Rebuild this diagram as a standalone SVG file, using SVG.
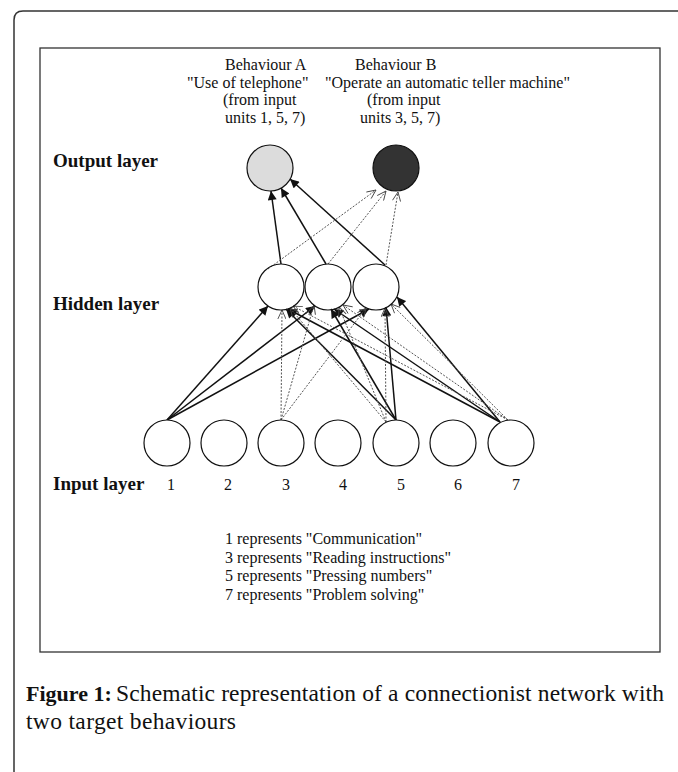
<svg xmlns="http://www.w3.org/2000/svg" width="678" height="772" viewBox="0 0 678 772">
<style>
.t{font-family:"Liberation Serif","Times New Roman",serif;font-size:16px;fill:#111}
.lb{font-family:"Liberation Serif","Times New Roman",serif;font-size:19px;font-weight:bold;fill:#111}
.num{font-family:"Liberation Serif","Times New Roman",serif;font-size:16px;fill:#111;text-anchor:middle}
.cap{font-family:"Liberation Serif","Times New Roman",serif;font-size:23.5px;fill:#111}
.capb{font-family:"Liberation Serif","Times New Roman",serif;font-size:22px;font-weight:bold;fill:#111}
.n{fill:#fff;stroke:#111;stroke-width:1.2}
.s{fill:none;stroke:#111;stroke-width:1.5;marker-end:url(#arrS)}
.d{fill:none;stroke:#555;stroke-width:1;stroke-dasharray:2 1.5;marker-end:url(#arrO)}
</style>
<defs>
<marker id="arrS" viewBox="0 0 10 10" refX="10" refY="5" markerWidth="10" markerHeight="9" markerUnits="userSpaceOnUse" orient="auto">
<path d="M0,0 L10,5 L0,10 z" fill="#111"/>
</marker>
<marker id="arrO" viewBox="0 0 10 10" refX="10" refY="5" markerWidth="10" markerHeight="9" markerUnits="userSpaceOnUse" orient="auto">
<path d="M0,0.5 L10,5 L0,9.5" fill="none" stroke="#444" stroke-width="1"/>
</marker>
</defs>
<rect x="0" y="0" width="678" height="772" fill="#fff"/>
<path d="M14,772 V20 Q14,11 23,11 H678" fill="none" stroke="#333" stroke-width="1.5"/>
<rect x="40" y="48" width="620" height="604" fill="none" stroke="#333" stroke-width="1.3"/>

<g id="labels">
<text class="t" x="225" y="70">Behaviour A</text>
<text class="t" x="187" y="88">"Use of telephone"</text>
<text class="t" x="223" y="105">(from input</text>
<text class="t" x="225" y="123">units 1, 5, 7)</text>
<text class="t" x="355" y="70">Behaviour B</text>
<text class="t" x="325" y="88">"Operate an automatic teller machine"</text>
<text class="t" x="367" y="105">(from input</text>
<text class="t" x="360" y="123">units 3, 5, 7)</text>
<text class="lb" x="53" y="167">Output layer</text>
<text class="lb" x="53" y="310">Hidden layer</text>
<text class="lb" x="53" y="490">Input layer</text>
</g>

<g id="connectors">
<path class="s" d="M281,264 L271,191"/>
<path class="s" d="M326,264 L281,188"/>
<path class="s" d="M385,265 L290,179"/>
<path class="d" d="M268,269 L376,190"/>
<path class="d" d="M328,264 L386,191"/>
<path class="d" d="M386,265 L398,192"/>
<path class="s" d="M167,420 L268,306"/>
<path class="s" d="M167,420 L315,306"/>
<path class="s" d="M167,420 L369,309"/>
<path class="s" d="M396,420 L286,309"/>
<path class="s" d="M396,420 L331,309"/>
<path class="s" d="M396,420 L386,307"/>
<path class="s" d="M500,422 L288,309"/>
<path class="s" d="M500,422 L334,309"/>
<path class="s" d="M500,422 L397,297"/>
<path class="d" d="M281,420 L282,310"/>
<path class="d" d="M281,420 L314,305"/>
<path class="d" d="M281,420 L366,308"/>
<path class="d" d="M386,422 L290,308"/>
<path class="d" d="M386,422 L339,307"/>
<path class="d" d="M386,422 L385,308"/>
<path class="d" d="M508,420 L293,306"/>
<path class="d" d="M508,420 L343,305"/>
<path class="d" d="M508,420 L391,304"/>
</g>

<g id="out-a"><circle cx="270" cy="168" r="23" fill="#dcdcdc" stroke="#111" stroke-width="1.2"/></g>
<g id="out-b"><circle cx="396" cy="168" r="23" fill="#333" stroke="#111" stroke-width="1.2"/></g>
<g id="hid-1"><circle class="n" cx="281" cy="287" r="23" fill-opacity="0"/></g>
<g id="hid-2"><circle class="n" cx="328" cy="287" r="23" fill-opacity="0"/></g>
<g id="hid-3"><circle class="n" cx="376" cy="287" r="23" fill-opacity="0"/></g>

<g id="in-1"><circle class="n" cx="167" cy="443" r="23"/><text class="num" x="171" y="490">1</text></g>
<g id="in-2"><circle class="n" cx="224" cy="443" r="23"/><text class="num" x="228" y="490">2</text></g>
<g id="in-3"><circle class="n" cx="281" cy="443" r="23"/><text class="num" x="286" y="490">3</text></g>
<g id="in-4"><circle class="n" cx="338" cy="443" r="23"/><text class="num" x="343" y="490">4</text></g>
<g id="in-5"><circle class="n" cx="396" cy="443" r="23"/><text class="num" x="401" y="490">5</text></g>
<g id="in-6"><circle class="n" cx="453" cy="443" r="23"/><text class="num" x="458" y="490">6</text></g>
<g id="in-7"><circle class="n" cx="511" cy="443" r="23"/><text class="num" x="516" y="490">7</text></g>

<g id="legend">
<text class="t" x="225" y="544">1 represents "Communication"</text>
<text class="t" x="225" y="562.5">3 represents "Reading instructions"</text>
<text class="t" x="225" y="581">5 represents "Pressing numbers"</text>
<text class="t" x="225" y="600">7 represents "Problem solving"</text>
</g>

<g id="caption">
<text class="capb" x="26" y="701">Figure 1:</text>
<text class="cap" x="116" y="701" textLength="548" lengthAdjust="spacing">Schematic representation of a connectionist network with</text>
<text class="cap" x="26" y="729" textLength="210" lengthAdjust="spacing">two target behaviours</text>
</g>
</svg>
